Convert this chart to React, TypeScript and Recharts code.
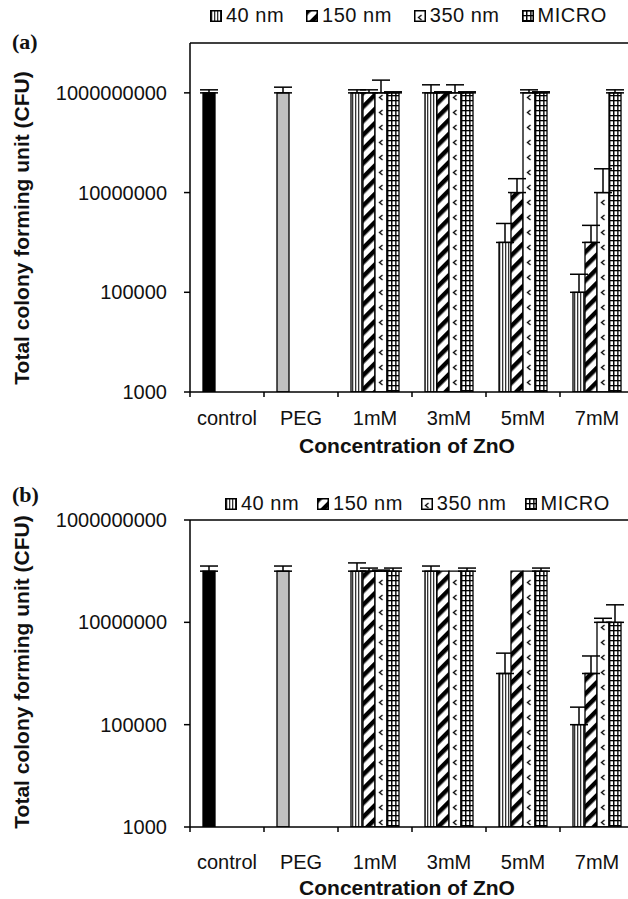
import React from "react";
import {
  Bar,
  BarChart,
  Cell,
  ErrorBar,
  Legend,
  ReferenceLine,
  XAxis,
  YAxis,
} from "recharts";

const categories = ["control", "PEG", "1mM", "3mM", "5mM", "7mM"];
const seriesKeys = ["nm40", "nm150", "nm350", "micro"];
const seriesNames = ["40 nm", "150 nm", "350 nm", "MICRO"];
const yTicks = [1000, 100000, 10000000, 1000000000];

// panel (a): bar heights (CFU)
const nm40A = [1e9, 1e9, 1e9, 1e9, 1e6, 1e5];
const nm150A = [null, null, 1e9, 1e9, 1e7, 1e6];
const nm350A = [null, null, 1e9, 1e9, 1e9, 1e7];
const microA = [null, null, 1e9, 1e9, 1e9, 1e9];
// panel (a): upper error amounts
const nm40ErrA = [1.5e8, 3e8, 1.5e8, 4.5e8, 1.4e6, 1.3e5];
const nm150ErrA = [null, null, 1.5e8, 5e7, 9e6, 1.2e6];
const nm350ErrA = [null, null, 8e8, 4.5e8, 1.5e8, 2e7];
const microErrA = [null, null, 5e7, 5e7, 5e7, 1.5e8];

// panel (b): bar heights (CFU)
const nm40B = [1e8, 1e8, 1e8, 1e8, 1e6, 1e5];
const nm150B = [null, null, 1e8, 1e8, 1e8, 1e6];
const nm350B = [null, null, 1e8, 1e8, 1e8, 1e7];
const microB = [null, null, 1e8, 1e8, 1e8, 1e7];
// panel (b): upper error amounts
const nm40ErrB = [2.6e7, 2.6e7, 4.5e7, 2.6e7, 1.5e6, 1.2e5];
const nm150ErrB = [null, null, 1.5e7, null, null, 1.2e6];
const nm350ErrB = [null, null, 5e6, null, null, 2e6];
const microErrB = [null, null, 1.5e7, 1.5e7, 1.5e7, 1.2e7];

const FONT = "'Liberation Sans', Arial, sans-serif";
const SERIF = "'Liberation Serif', 'Times New Roman', serif";
const CHART_W = 640;
const PLOT_LEFT = 190;
const MARGIN_RIGHT = 6;
const BAND = (CHART_W - MARGIN_RIGHT - PLOT_LEFT) / categories.length;
const CAT_GAP = 13;
const BAR_W = (BAND - 2 * CAT_GAP) / 4;

function buildRows(values, errors) {
  return categories.map((cat, i) => {
    const row = { cat };
    seriesKeys.forEach((key, s) => {
      row[key] = values[s][i];
      const e = errors[s][i];
      row[key + "Err"] = e == null ? null : [0, e];
    });
    return row;
  });
}

const rowsA = buildRows(
  [nm40A, nm150A, nm350A, microA],
  [nm40ErrA, nm150ErrA, nm350ErrA, microErrA]
);
const rowsB = buildRows(
  [nm40B, nm150B, nm350B, microB],
  [nm40ErrB, nm150ErrB, nm350ErrB, microErrB]
);

function patternDefs(id, x350, xMicro, suffix = "") {
  const w350 = BAND / 6;
  const wMicro = BAND / 18;
  return [
    <pattern key="p40" id={`${id}-nm40${suffix}`} patternUnits="userSpaceOnUse" width={3} height={3}>
      <rect width={3} height={3} fill="#fff" />
      <rect x={1} width={1.3} height={3} fill="#333" />
    </pattern>,
    <pattern
      key="p150"
      id={`${id}-nm150${suffix}`}
      patternUnits="userSpaceOnUse"
      width={10}
      height={10}
      patternTransform="rotate(45)"
    >
      <rect width={10} height={10} fill="#fff" />
      <rect width={4.5} height={10} fill="#000" />
    </pattern>,
    <pattern key="p350" id={`${id}-nm350${suffix}`} patternUnits="userSpaceOnUse" x={x350} width={w350} height={15}>
      <rect width={w350} height={15} fill="#fff" />
      <path d="M7.5,5 L4.5,7.5 L7.5,10" fill="none" stroke="#000" strokeWidth={1.3} />
    </pattern>,
    <pattern key="pm" id={`${id}-micro${suffix}`} patternUnits="userSpaceOnUse" x={xMicro} width={wMicro} height={5}>
      <rect width={wMicro} height={5} fill="#fff" />
      <rect width={1.3} height={5} fill="#000" />
      <rect width={wMicro} height={1.3} fill="#000" />
    </pattern>,
  ];
}

function PatternLegend({ id, gap }) {
  return (
    <div
      style={{
        display: "flex",
        alignItems: "center",
        gap,
        fontFamily: FONT,
        fontSize: 20,
        letterSpacing: 0.5,
        color: "#111",
        whiteSpace: "nowrap",
      }}
    >
      {seriesKeys.map((key, s) => (
        <div key={key} style={{ display: "flex", alignItems: "center", gap: 4 }}>
          <svg width={12} height={12}>
            <rect
              x={0.75}
              y={0.75}
              width={10.5}
              height={10.5}
              fill={`url(#${id}-${key}-icon)`}
              stroke="#000"
              strokeWidth={1.5}
            />
          </svg>
          <span>{seriesNames[s]}</span>
        </div>
      ))}
    </div>
  );
}

function CategoryTick({ x, y, payload, dy }) {
  const half = payload?.offset || BAND / 2;
  const axisY = y - 5;
  return (
    <g>
      <line x1={x - half} x2={x - half} y1={axisY} y2={axisY + 5} stroke="#000" strokeWidth={1.5} />
      <text x={x} y={axisY} dy={dy} textAnchor="middle" fontFamily={FONT} fontSize={20} fill="#111">
        {payload.value}
      </text>
    </g>
  );
}

function Panel({ id, rows, height, top, xAxisHeight, yMax, letter, letterY, yTitleY, xTitleY, tickDy, legendTop, legendLeft, legendGap }) {
  const x350 = PLOT_LEFT + CAT_GAP + 2 * BAR_W;
  const xMicro = PLOT_LEFT + CAT_GAP + 3 * BAR_W;
  return (
    <BarChart
      width={CHART_W}
      height={height}
      data={rows}
      margin={{ top, right: MARGIN_RIGHT, bottom: 0, left: 0 }}
      barCategoryGap={CAT_GAP}
      barGap={0}
    >
      <defs>
        {patternDefs(id, x350, xMicro)}
        {patternDefs(id, 0, 0, "-icon")}
      </defs>
      <XAxis
        dataKey="cat"
        type="category"
        interval={0}
        height={xAxisHeight}
        axisLine={{ stroke: "#000", strokeWidth: 1.5 }}
        tickLine={false}
        tickSize={5}
        tickMargin={0}
        tick={(props) => <CategoryTick {...props} dy={tickDy} />}
      />
      <YAxis
        type="number"
        scale="log"
        domain={[1000, yMax]}
        ticks={yTicks}
        allowDataOverflow
        width={PLOT_LEFT}
        tickSize={6}
        tickMargin={17}
        axisLine={{ stroke: "#000", strokeWidth: 1.5 }}
        tickLine={{ stroke: "#000", strokeWidth: 1.5 }}
        tick={{ fill: "#111", fontSize: 20, fontFamily: FONT }}
      />
      <ReferenceLine y={yMax} stroke="#000" strokeWidth={1.5} />
      <Legend
        verticalAlign="middle"
        align="center"
        layout="horizontal"
        wrapperStyle={{ top: legendTop, left: legendLeft, width: "auto", height: "auto" }}
        content={() => <PatternLegend id={id} gap={legendGap} />}
      />
      {seriesKeys.map((key, s) => (
        <Bar
          key={key}
          dataKey={key}
          name={seriesNames[s]}
          fill={`url(#${id}-${key})`}
          stroke="#000"
          strokeWidth={1.3}
          isAnimationActive={false}
        >
          {key === "nm40" &&
            rows.map((r) => (
              <Cell
                key={r.cat}
                fill={r.cat === "control" ? "#000" : r.cat === "PEG" ? "#c0c0c0" : `url(#${id}-nm40)`}
              />
            ))}
          <ErrorBar dataKey={`${key}Err`} width={9} stroke="#000" strokeWidth={1.5} direction="y" />
        </Bar>
      ))}
      <text x={12} y={letterY} fontFamily={SERIF} fontWeight="bold" fontSize={22} fill="#111">
        {letter}
      </text>
      <text
        transform={`translate(29, ${yTitleY}) rotate(-90)`}
        textAnchor="middle"
        fontFamily={FONT}
        fontWeight="bold"
        fontSize={21}
        fill="#111"
      >
        Total colony forming unit (CFU)
      </text>
      <text x={407} y={xTitleY} textAnchor="middle" fontFamily={FONT} fontWeight="bold" fontSize={21} fill="#111">
        Concentration of ZnO
      </text>
    </BarChart>
  );
}

export default function App() {
  return (
    <div
      style={{
        position: "absolute",
        left: 0,
        top: 0,
        width: 628,
        height: 899,
        overflow: "hidden",
        background: "#fff",
      }}
    >
      <div style={{ position: "absolute", left: 0, top: 0 }}>
        <Panel
          id="pa"
          rows={rowsA}
          height={470}
          top={43}
          xAxisHeight={78}
          yMax={1e10}
          letter="(a)"
          letterY={49}
          yTitleY={228}
          xTitleY={453}
          tickDy={33}
          legendTop={4}
          legendLeft={210}
          legendGap={22}
        />
      </div>
      <div style={{ position: "absolute", left: 0, top: 470 }}>
        <Panel
          id="pb"
          rows={rowsB}
          height={429}
          top={50}
          xAxisHeight={72}
          yMax={1e9}
          letter="(b)"
          letterY={32}
          yTitleY={202}
          xTitleY={425}
          tickDy={42}
          legendTop={22}
          legendLeft={225}
          legendGap={18}
        />
      </div>
    </div>
  );
}
